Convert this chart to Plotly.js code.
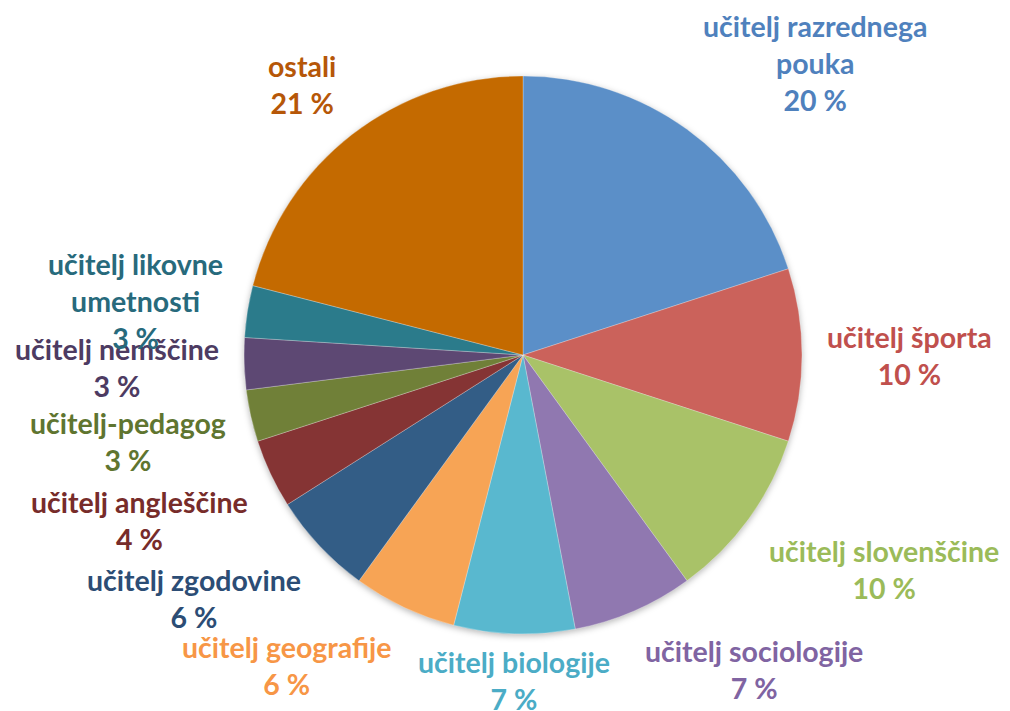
<!DOCTYPE html>
<html>
<head>
<meta charset="utf-8">
<script src="https://cdn.plot.ly/plotly-3.0.1.min.js"></script>
<style>
html,body{margin:0;padding:0;background:#fff;}
#chart{width:1010px;height:711px;}
#chart .pielayer .trace{filter: drop-shadow(0px 2px 3px rgba(0,0,0,0.28));}
</style>
</head>
<body>
<div id="chart"></div>
<script>
// Data
var categories = [
  "učitelj razrednega<br>pouka",
  "učitelj športa",
  "učitelj slovenščine",
  "učitelj sociologije",
  "učitelj biologije",
  "učitelj geografije",
  "učitelj zgodovine",
  "učitelj angleščine",
  "učitelj-pedagog",
  "učitelj nemščine",
  "učitelj likovne<br>umetnosti",
  "ostali"
];
var percents = [20, 10, 10, 7, 7, 6, 6, 4, 3, 3, 3, 21];

var sliceColors = ["#5B8FC8","#CB625B","#A9C268","#9078B0","#59B8CF","#F7A455",
                   "#335D86","#853434","#708038","#5D4873","#2B7B8B","#C46A00"];
var textColors  = ["#4F81BD","#C0504D","#9BBB59","#8064A2","#4BACC6","#F79646",
                   "#2C4D75","#772C2A","#5F7530","#4D3B62","#276A7C","#B65708"];

var W = 1010, H = 711;
var cx = 523, cy = 355, r = 279;
var labelGap = 23;
var fontSize = 28.5, lineH = fontSize * 1.3;
var blend = 0.4;

var pieTrace = {
  type: "pie",
  labels: categories,
  values: percents,
  sort: false,
  direction: "clockwise",
  rotation: 0,
  textinfo: "none",
  hoverinfo: "label+percent",
  marker: {colors: sliceColors, line: {width: 0.6, color: "rgba(255,255,255,0.45)"}},
  domain: {x: [(cx - r) / W, (cx + r) / W], y: [(H - cy - r) / H, (H - cy + r) / H]},
  showlegend: false
};

// Outside labels placed at each slice's mid-angle (derived from the data)
var total = percents.reduce(function(a, b){ return a + b; }, 0);
var annotations = [];
var cum = 0;
for (var i = 0; i < percents.length; i++) {
  var mid = (cum + percents[i] / 2) / total * 2 * Math.PI;
  cum += percents[i];
  var ux = Math.sin(mid), uy = -Math.cos(mid); // screen coords, y down
  var R = r + labelGap;
  var px = cx + R * ux, py = cy + R * uy;
  var text = categories[i] + "<br>" + percents[i] + " %";
  var nLines = text.split("<br>").length;
  var h = nLines * lineH;
  var t = Math.min(1, Math.abs(uy) / blend);
  var k = uy >= 0 ? t : -0.85 * t * t;
  var centered = Math.abs(ux) <= 0.15;
  var pyc = py + k * h / 2 * (centered ? 0.65 : 1);
  var xanchor = ux > 0.15 ? "left" : (ux < -0.15 ? "right" : "center");
  annotations.push({
    xref: "paper", yref: "paper",
    x: px / W, y: 1 - pyc / H,
    xanchor: xanchor, yanchor: "middle",
    text: text, showarrow: false, align: "center",
    font: {family: "Lato, 'Open Sans', sans-serif", size: fontSize, weight: "bold", color: textColors[i]}
  });
}

var layout = {
  width: W,
  height: H,
  margin: {l: 0, r: 0, t: 0, b: 0},
  paper_bgcolor: "#ffffff",
  showlegend: false,
  annotations: annotations
};

Plotly.newPlot("chart", [pieTrace], layout, {displayModeBar: false, staticPlot: true});
</script>
</body>
</html>
